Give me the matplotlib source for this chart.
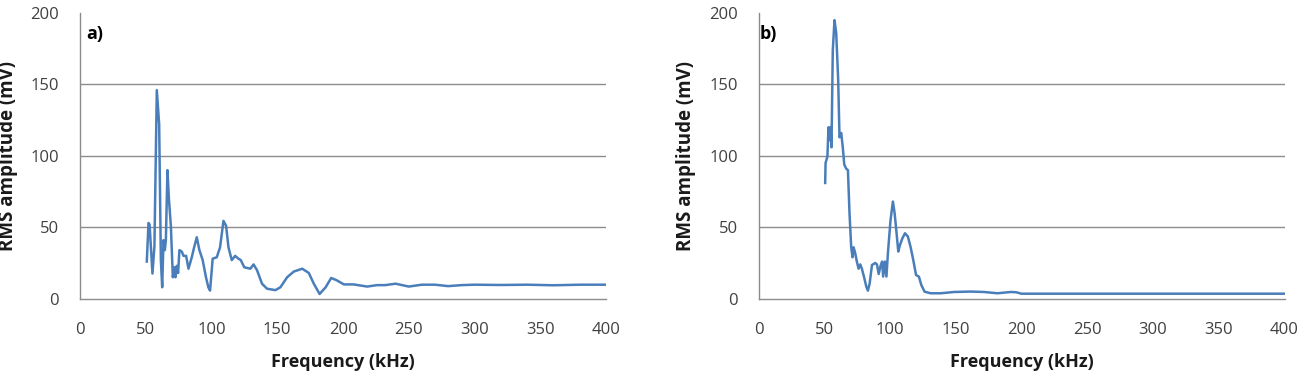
import matplotlib
matplotlib.use("Agg")
import matplotlib.pyplot as plt

# Panel a) data
freq_a = [50.8, 52.1, 52.9, 55.1, 56.6, 58.4, 60.2, 61.5, 62.5, 63.5, 64.5, 65.3, 66.5, 67.6,
          69.1, 70.6, 71.6, 72.6, 73.6, 74.6, 75.6, 77.4, 78.7, 80.7, 82.5, 85.0, 86.8, 88.8,
          90.8, 93.3, 95.8, 97.6, 98.9, 100.9, 104.0, 106.5, 109.1, 111.1, 112.9, 115.4, 118.0,
          120.5, 122.3, 124.9, 129.5, 132.0, 134.6, 138.4, 142.2, 148.6, 152.4, 157.5, 162.6,
          169.0, 174.0, 177.8, 182.2, 186.8, 191.0, 195.0, 200.7, 208.0, 218.4, 225.9, 232.0,
          240.0, 250.0, 260.0, 270.0, 280.0, 290.0, 300.0, 320.0, 340.0, 360.0, 380.0, 400.0]
amp_a = [26, 53, 52, 17.6, 36.7, 146, 122, 27, 8, 41, 34, 41, 90, 70,
         51, 15, 22, 15, 23, 18, 34, 33, 30, 30, 21, 29, 36, 43,
         34, 27, 15, 8, 5.7, 28, 29, 36, 54.5, 51, 36, 27, 30,
         28, 27, 22, 21, 24, 20, 10.5, 7, 6, 8, 15, 19,
         21, 18, 10.5, 3.3, 8, 14.5, 13, 10, 10, 8.5, 9.5, 9.5,
         10.5, 8.5, 9.8, 9.8, 8.8, 9.5, 9.8, 9.6, 9.8, 9.4, 9.8, 9.8]

# Panel b) data
freq_b = [50.7, 51.0, 52.4, 53.2, 54.0, 54.7, 55.5, 56.5, 57.8, 59.1, 60.6, 61.6, 62.9, 64.1,
          65.2, 66.7, 68.0, 69.2, 70.5, 71.5, 72.3, 73.5, 74.8, 76.1, 77.4, 78.6, 80.2, 82.0,
          83.2, 84.5, 86.3, 88.8, 90.1, 91.4, 92.7, 94.0, 94.8, 96.1, 97.3, 98.4, 100.4, 102.2,
          103.5, 105.0, 106.3, 107.6, 109.3, 111.4, 113.6, 115.7, 117.7, 119.8, 122.0, 123.8,
          126.3, 130.9, 138.5, 148.7, 161.4, 171.5, 181.7, 191.9, 196.0, 200.0, 250.0, 300.0,
          350.0, 400.0]
amp_b = [81, 95, 99.5, 120, 111, 120, 106, 174, 195, 186, 153, 113, 116, 106,
         94, 91, 90, 60, 36, 29, 36, 32, 26, 21, 24, 21, 15.4, 8.4,
         5.6, 10.5, 23.6, 25, 24, 17.3, 22.6, 26, 15.5, 26, 15.5, 31.8, 55, 68,
         60, 45.8, 33, 37.6, 42, 45.8, 43.5, 36, 27, 16.6, 15.4, 9.6,
         4.9, 3.8, 3.8, 4.7, 5.0, 4.7, 3.8, 4.7, 4.5, 3.5, 3.5, 3.5,
         3.5, 3.5]

x_ticks = [0, 50, 100, 150, 200, 250, 300, 350, 400]
y_ticks = [0, 50, 100, 150, 200]
panel_labels = ["a)", "b)"]
x_title = "Frequency (kHz)"
y_title = "RMS amplitude (mV)"

plt.rcParams['font.family'] = ["Open Sans", "DejaVu Sans"]

W, H = 1303, 376
fig = plt.figure(figsize=(W / 100, H / 100), dpi=100)

line_color = "#4A7EBB"
grid_color = "#8C8C8C"
tick_color = "#404040"

lefts = [80, 758.5]
label_offsets = [6, 1]
ax_w = 526
bottom_px = 298.7
top_px = 13

for i, (fx, fy) in enumerate([(freq_a, amp_a), (freq_b, amp_b)]):
    ax = fig.add_axes([lefts[i] / W, (H - bottom_px) / H, ax_w / W, (bottom_px - top_px) / H])
    ax.plot(fx, fy, color=line_color, lw=1.8, solid_joinstyle="round")
    ax.set_xlim(0, 400)
    ax.set_ylim(0, 200)
    ax.set_xticks(x_ticks)
    ax.set_yticks(y_ticks)
    for v in [50, 100, 150]:
        ax.axhline(v, color=grid_color, lw=1.0, zorder=0)
    for s in ["top", "right"]:
        ax.spines[s].set_visible(False)
    for s in ["left", "bottom"]:
        ax.spines[s].set_color(grid_color)
        ax.spines[s].set_linewidth(1.0)
    ax.tick_params(axis="both", length=0, labelsize=12, labelcolor=tick_color)
    ax.tick_params(axis="x", pad=17)
    ax.tick_params(axis="y", pad=15)
    # axis titles
    fig.text((lefts[i] + ax_w / 2) / W, 1 - 362 / H, x_title, fontsize=13, fontweight="bold",
             color="#1a1a1a", ha="center", va="center")
    fig.text((lefts[i] - 72) / W, 1 - 156 / H, y_title, fontsize=13.5, fontweight="bold",
             color="#1a1a1a", ha="center", va="center", rotation=90)
    fig.text((lefts[i] + label_offsets[i]) / W, 1 - 34 / H, panel_labels[i], fontsize=13,
             fontweight="bold", color="#000000", ha="left", va="center")

fig.savefig("out.png", dpi=100)
